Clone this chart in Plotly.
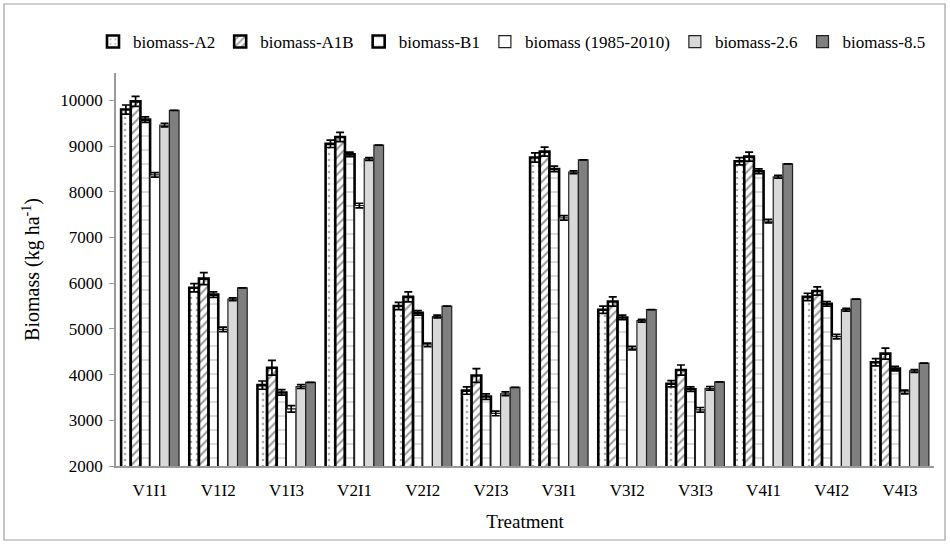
import plotly.graph_objects as go

categories = ["V1I1", "V1I2", "V1I3", "V2I1", "V2I2", "V2I3",
              "V3I1", "V3I2", "V3I3", "V4I1", "V4I2", "V4I3"]

series_names = ["biomass-A2", "biomass-A1B", "biomass-B1",
                "biomass (1985-2010)", "biomass-2.6", "biomass-8.5"]

tick_values = [2000, 3000, 4000, 5000, 6000, 7000, 8000, 9000, 10000]
tick_labels = ["2000", "3000", "4000", "5000", "6000", "7000", "8000", "9000", "10000"]

biomass_a2 = [9800, 5900, 3770, 9050, 5500, 3650, 8750, 5420, 3800, 8670, 5700, 4270]
biomass_a1b = [9980, 6100, 4150, 9200, 5700, 3980, 8880, 5600, 4100, 8770, 5830, 4460]
biomass_b1 = [9580, 5750, 3610, 8820, 5350, 3520, 8500, 5250, 3680, 8450, 5550, 4130]
biomass_hist = [8370, 4990, 3250, 7700, 4650, 3150, 7430, 4580, 3230, 7360, 4830, 3620]
biomass_26 = [9460, 5650, 3740, 8720, 5270, 3580, 8430, 5180, 3700, 8330, 5420, 4080]
biomass_85 = [9780, 5900, 3830, 9020, 5500, 3720, 8700, 5420, 3840, 8610, 5650, 4250]

err_a2 = [100, 90, 90, 80, 80, 80, 100, 80, 70, 80, 80, 80]
err_a1b = [110, 130, 160, 100, 110, 150, 100, 100, 110, 100, 90, 120]
err_b1 = [60, 60, 60, 50, 50, 60, 60, 50, 50, 50, 50, 50]
err_hist = [50, 50, 70, 50, 40, 50, 50, 40, 50, 40, 50, 40]
err_26 = [40, 30, 40, 30, 30, 40, 30, 30, 40, 30, 30, 30]
err_85 = [0] * 12

values = [biomass_a2, biomass_a1b, biomass_b1, biomass_hist, biomass_26, biomass_85]
errors = [err_a2, err_a1b, err_b1, err_hist, err_26, err_85]

styles = [
    dict(color="white", line=dict(color="black", width=2.6),
         pattern=dict(shape=".", fgcolor="#555555", bgcolor="white", size=6, solidity=0.15)),
    dict(color="white", line=dict(color="black", width=2.6),
         pattern=dict(shape="/", fgcolor="#333333", bgcolor="white", size=6, solidity=0.35)),
    dict(color="white", line=dict(color="black", width=2.6),
         pattern=dict(shape="-", fgcolor="#777777", bgcolor="white", size=14, solidity=0.08)),
    dict(color="white", line=dict(color="#222222", width=1.2)),
    dict(color="#d9d9d9", line=dict(color="#222222", width=1.2)),
    dict(color="#7f7f7f", line=dict(color="#222222", width=1.2)),
]

FONT = "Liberation Serif, Times New Roman, serif"

fig = go.Figure()
for name, vals, errs, st in zip(series_names, values, errors, styles):
    fig.add_trace(go.Bar(
        x=categories, y=vals, name=name, marker=st,
        error_y=dict(type="data", array=errs, visible=True,
                     color="black", thickness=1.7, width=4),
    ))

L, R, T, B = 116, 16, 73, 79
W, H = 950, 545
pw, ph = W - L - R, H - T - B

fig.update_layout(
    width=W, height=H,
    margin=dict(l=L, r=R, t=T, b=B),
    paper_bgcolor="white", plot_bgcolor="white",
    barmode="group", bargap=0.15, bargroupgap=0.0,
    font=dict(family=FONT, size=16, color="black"),
    legend=dict(orientation="h", x=(93 - L) / pw, xanchor="left",
                y=1 + (T - 42) / ph, yanchor="middle",
                font=dict(family=FONT, size=17), itemwidth=30,
                tracegroupgap=0, traceorder="normal"),
    xaxis=dict(title=dict(text="Treatment", font=dict(family=FONT, size=19), standoff=16),
               showline=True, linecolor="#9a9a9a", linewidth=1.5,
               ticks="", ticklabelstandoff=8, tickfont=dict(family=FONT, size=17)),
    yaxis=dict(title=dict(text="Biomass (kg ha<sup>-1</sup>)", font=dict(family=FONT, size=20), standoff=15),
               range=[2000, 10600], tickvals=tick_values, ticktext=tick_labels,
               showline=True, linecolor="#9a9a9a", linewidth=1.5,
               ticks="outside", ticklen=5, tickcolor="#9a9a9a", ticklabelstandoff=3,
               showgrid=False, zeroline=False, tickfont=dict(family=FONT, size=17)),
    shapes=[dict(type="rect", xref="paper", yref="paper",
                 x0=(4 - L) / pw, x1=(W - 5 - L) / pw,
                 y0=(H - B - (H - 5)) / ph, y1=(H - B - 4) / ph,
                 line=dict(color="#a0a0a0", width=1.2))],
)

fig.write_html("out.html")
